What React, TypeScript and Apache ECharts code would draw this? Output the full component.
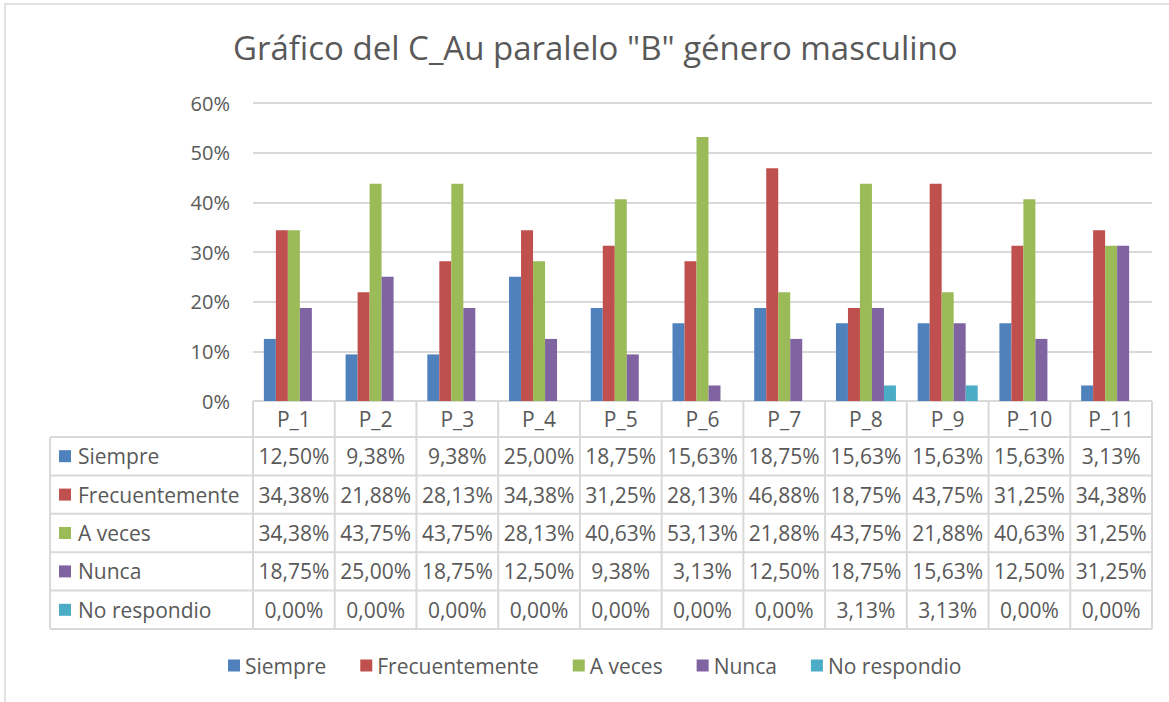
import React, { useEffect, useRef } from "react";
import * as echarts from "echarts";

const categories = ["P_1", "P_2", "P_3", "P_4", "P_5", "P_6", "P_7", "P_8", "P_9", "P_10", "P_11"];
const seriesNames = ["Siempre", "Frecuentemente", "A veces", "Nunca", "No respondio"];
const siempre = [12.5, 9.38, 9.38, 25.0, 18.75, 15.63, 18.75, 15.63, 15.63, 15.63, 3.13];
const frecuentemente = [34.38, 21.88, 28.13, 34.38, 31.25, 28.13, 46.88, 18.75, 43.75, 31.25, 34.38];
const aVeces = [34.38, 43.75, 43.75, 28.13, 40.63, 53.13, 21.88, 43.75, 21.88, 40.63, 31.25];
const nunca = [18.75, 25.0, 18.75, 12.5, 9.38, 3.13, 12.5, 18.75, 15.63, 12.5, 31.25];
const noRespondio = [0, 0, 0, 0, 0, 0, 0, 3.13, 3.13, 0, 0];
const seriesValues = [siempre, frecuentemente, aVeces, nunca, noRespondio];
const colors = ["#4f81bd", "#c0504d", "#9bbb59", "#8064a2", "#4bacc6"];
const titleText = 'Gráfico del C_Au paralelo "B" género masculino';

const W = 1169;
const H = 702;
const GRID_L = 253;
const GRID_R = 1152;
const GRID_T = 103;
const GRID_B = 401;
const HEADER_B = 437;
const ROW_H = 38.4;
const TABLE_L = 50;
const FONT = "'Open Sans', 'Noto Sans', sans-serif";
const TEXT_COLOR = "#595959";
const BORDER = "#d9d9d9";

const fmt = (v: number) => v.toFixed(2).replace(".", ",") + "%";

export default function App() {
  const ref = useRef<HTMLDivElement>(null);
  useEffect(() => {
    if (!ref.current) return;
    const chart = echarts.init(ref.current, undefined, { renderer: "svg" });
    const colW = (GRID_R - GRID_L) / categories.length;
    const tableBottom = HEADER_B + ROW_H * seriesNames.length;
    const graphics: any[] = [];

    // outer frame
    graphics.push({
      type: "rect",
      shape: { x: 5, y: 4, width: 1300, height: 900 },
      style: { fill: "none", stroke: BORDER, lineWidth: 1.5 },
      silent: true,
    });

    // horizontal lines
    graphics.push({
      type: "line",
      shape: { x1: GRID_L, y1: GRID_B, x2: GRID_R, y2: GRID_B },
      style: { stroke: BORDER, lineWidth: 2 },
    });
    for (let r = 0; r <= seriesNames.length; r++) {
      const y = HEADER_B + r * ROW_H;
      graphics.push({
        type: "line",
        shape: { x1: TABLE_L, y1: y, x2: GRID_R, y2: y },
        style: { stroke: BORDER, lineWidth: 2 },
      });
    }
    // vertical lines
    graphics.push({
      type: "line",
      shape: { x1: TABLE_L, y1: HEADER_B, x2: TABLE_L, y2: tableBottom },
      style: { stroke: BORDER, lineWidth: 2 },
    });
    for (let c = 0; c <= categories.length; c++) {
      const x = GRID_L + c * colW;
      graphics.push({
        type: "line",
        shape: { x1: x, y1: GRID_B, x2: x, y2: tableBottom },
        style: { stroke: BORDER, lineWidth: 2 },
      });
    }
    // header texts
    categories.forEach((cat, c) => {
      graphics.push({
        type: "text",
        x: GRID_L + (c + 0.5) * colW,
        y: (GRID_B + HEADER_B) / 2,
        style: {
          text: cat,
          fill: TEXT_COLOR,
          font: `21px ${FONT}`,
          align: "center",
          verticalAlign: "middle",
        },
      });
    });
    // row labels and values
    seriesNames.forEach((name, r) => {
      const cy = HEADER_B + (r + 0.5) * ROW_H;
      graphics.push({
        type: "rect",
        shape: { x: 59, y: cy - 6, width: 12, height: 12 },
        style: { fill: colors[r] },
      });
      graphics.push({
        type: "text",
        x: 78,
        y: cy,
        style: {
          text: name,
          fill: TEXT_COLOR,
          font: `21px ${FONT}`,
          align: "left",
          verticalAlign: "middle",
        },
      });
      seriesValues[r].forEach((v, c) => {
        graphics.push({
          type: "text",
          x: GRID_L + (c + 0.5) * colW,
          y: cy,
          style: {
            text: fmt(v),
            fill: TEXT_COLOR,
            font: `21px ${FONT}`,
            align: "center",
            verticalAlign: "middle",
          },
        });
      });
    });

    chart.setOption({
      animation: false,
      backgroundColor: "#ffffff",
      title: {
        text: titleText,
        left: 228,
        top: 26,
        textStyle: { fontFamily: FONT, fontSize: 33, fontWeight: "normal", color: TEXT_COLOR },
      },
      legend: {
        data: seriesNames,
        left: 223,
        top: 650,
        itemWidth: 12,
        itemHeight: 12,
        itemGap: 34,
        icon: "rect",
        textStyle: { fontFamily: FONT, fontSize: 21, color: TEXT_COLOR },
      },
      grid: {
        left: GRID_L,
        right: W - GRID_R,
        top: GRID_T,
        bottom: H - GRID_B,
        containLabel: false,
      },
      xAxis: {
        type: "category",
        data: categories,
        axisLine: { show: false },
        axisTick: { show: false },
        axisLabel: { show: false },
      },
      yAxis: {
        type: "value",
        min: 0,
        max: 60,
        interval: 10,
        axisLine: { show: false },
        axisTick: { show: false },
        splitLine: { lineStyle: { color: BORDER, width: 2 } },
        axisLabel: {
          formatter: (v: number) => `${v}%`,
          fontFamily: FONT,
          fontSize: 20,
          color: TEXT_COLOR,
          margin: 23,
        },
      },
      series: seriesNames.map((name, i) => ({
        name,
        type: "bar",
        data: seriesValues[i],
        barWidth: 12,
        barGap: "0%",
        itemStyle: { color: colors[i] },
      })),
      graphic: graphics,
    });
    return () => chart.dispose();
  }, []);
  return (
    <div
      ref={ref}
      style={{ position: "fixed", left: 0, top: 0, width: W, height: H, background: "#fff" }}
    />
  );
}
